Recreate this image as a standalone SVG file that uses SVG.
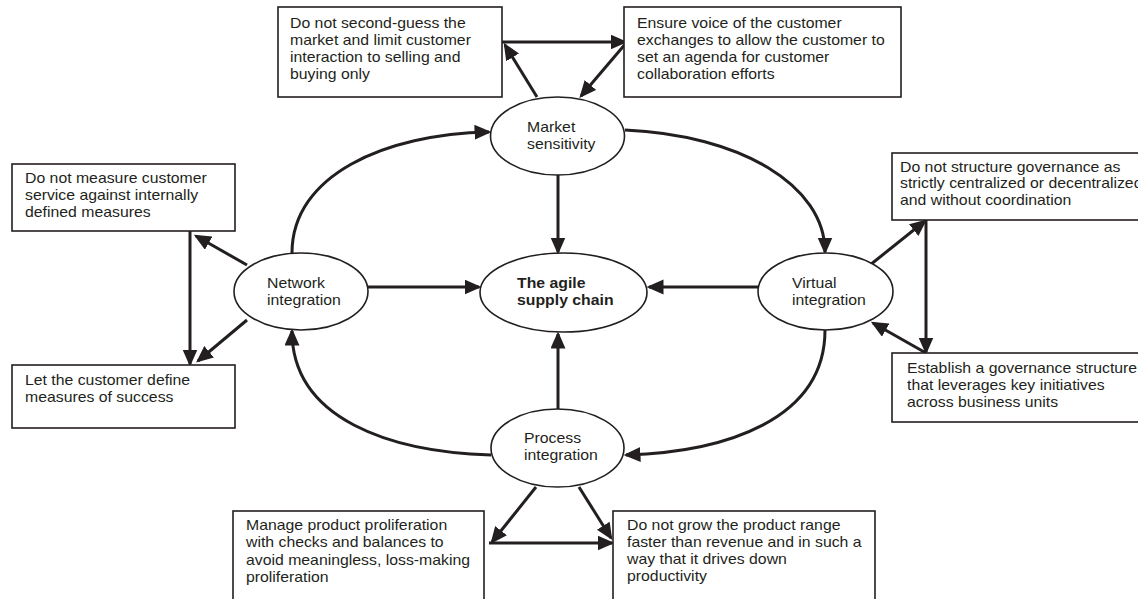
<svg xmlns="http://www.w3.org/2000/svg" width="1138" height="599" viewBox="0 0 1138 599">
  <style>
    .box { fill: #ffffff; stroke: #231f20; stroke-width: 1.6; }
    .node { fill: #ffffff; stroke: #231f20; stroke-width: 1.6; }
    .lbl { font-family: "Liberation Sans", Arial, sans-serif; font-size: 14px; fill: #231f20; }
    .bold { font-weight: bold; }
    .edge { fill: none; stroke: #231f20; stroke-width: 3; }
  </style>
  <defs>
    <marker id="arrow" markerUnits="userSpaceOnUse" markerWidth="18" markerHeight="16" refX="14.5" refY="7.5" orient="auto">
      <path d="M0,0 L17,7.5 L0,15 z" fill="#231f20"/>
    </marker>
  </defs>
  <rect width="1138" height="599" fill="#ffffff"/>

  <!-- connectors -->
  <g id="connectors">
    <!-- outer cycle -->
    <path class="edge" d="M292,253 C292,175 385,134 489,132" marker-end="url(#arrow)"/>
    <path class="edge" d="M625,130 C740,135 825,185 825,252" marker-end="url(#arrow)"/>
    <path class="edge" d="M825,330 C825,420 725,452 626,455" marker-end="url(#arrow)"/>
    <path class="edge" d="M491,455 C392,452 292,420 292,331" marker-end="url(#arrow)"/>
    <!-- into the hub -->
    <path class="edge" d="M558,175 L558,252" marker-end="url(#arrow)"/>
    <path class="edge" d="M558,409 L558,334" marker-end="url(#arrow)"/>
    <path class="edge" d="M368,287 L479,287" marker-end="url(#arrow)"/>
    <path class="edge" d="M758,287 L649,287" marker-end="url(#arrow)"/>
    <!-- market sensitivity loop -->
    <path class="edge" d="M537,97 L505,45" marker-end="url(#arrow)"/>
    <path class="edge" d="M502,42 L625,42" marker-end="url(#arrow)"/>
    <path class="edge" d="M627,42 L581,96" marker-end="url(#arrow)"/>
    <!-- network integration loop -->
    <path class="edge" d="M247,265 L196,236" marker-end="url(#arrow)"/>
    <path class="edge" d="M190,231 L190,364" marker-end="url(#arrow)"/>
    <path class="edge" d="M247,320 L198,361" marker-end="url(#arrow)"/>
    <!-- virtual integration loop -->
    <path class="edge" d="M870,265 L925,221" marker-end="url(#arrow)"/>
    <path class="edge" d="M926,220 L926,352" marker-end="url(#arrow)"/>
    <path class="edge" d="M926,353 L873,323" marker-end="url(#arrow)"/>
    <!-- process integration loop -->
    <path class="edge" d="M536,487 L492,542" marker-end="url(#arrow)"/>
    <path class="edge" d="M489,543 L612,543" marker-end="url(#arrow)"/>
    <path class="edge" d="M579,487 L611,538" marker-end="url(#arrow)"/>
  </g>

  <!-- central hub -->
  <g id="agile-supply-chain">
    <ellipse class="node" cx="563.5" cy="292.5" rx="83.5" ry="39.5"/>
    <text class="lbl bold" transform="translate(517,288) scale(1.13,1)"><tspan x="0" y="0">The agile</tspan><tspan x="0" y="17">supply chain</tspan></text>
  </g>

  <!-- four dimensions -->
  <g id="market-sensitivity">
    <ellipse class="node" cx="557.5" cy="136" rx="67" ry="39"/>
    <text class="lbl" transform="translate(527,132) scale(1.13,1)"><tspan x="0" y="0">Market</tspan><tspan x="0" y="17">sensitivity</tspan></text>
  </g>
  <g id="network-integration">
    <ellipse class="node" cx="301" cy="291.5" rx="67" ry="38.5"/>
    <text class="lbl" transform="translate(267,288) scale(1.13,1)"><tspan x="0" y="0">Network</tspan><tspan x="0" y="17">integration</tspan></text>
  </g>
  <g id="virtual-integration">
    <ellipse class="node" cx="825.5" cy="291.5" rx="67.5" ry="38.5"/>
    <text class="lbl" transform="translate(792,288) scale(1.13,1)"><tspan x="0" y="0">Virtual</tspan><tspan x="0" y="17">integration</tspan></text>
  </g>
  <g id="process-integration">
    <ellipse class="node" cx="557.5" cy="448" rx="66.5" ry="39"/>
    <text class="lbl" transform="translate(524,443) scale(1.13,1)"><tspan x="0" y="0">Process</tspan><tspan x="0" y="17">integration</tspan></text>
  </g>

  <!-- guideline boxes -->
  <g id="box-second-guess">
    <rect class="box" x="278" y="7" width="224" height="90"/>
    <text class="lbl" transform="translate(290,28) scale(1.13,1)"><tspan x="0" y="0">Do not second-guess the</tspan><tspan x="0" y="17">market and limit customer</tspan><tspan x="0" y="34">interaction to selling and</tspan><tspan x="0" y="51">buying only</tspan></text>
  </g>
  <g id="box-voice-of-customer">
    <rect class="box" x="624" y="7" width="277" height="90"/>
    <text class="lbl" transform="translate(637,28) scale(1.13,1)"><tspan x="0" y="0">Ensure voice of the customer</tspan><tspan x="0" y="17">exchanges to allow the customer to</tspan><tspan x="0" y="34">set an agenda for customer</tspan><tspan x="0" y="51">collaboration efforts</tspan></text>
  </g>
  <g id="box-internal-measures">
    <rect class="box" x="12" y="164" width="223" height="67"/>
    <text class="lbl" transform="translate(25,183) scale(1.13,1)"><tspan x="0" y="0">Do not measure customer</tspan><tspan x="0" y="17">service against internally</tspan><tspan x="0" y="34">defined measures</tspan></text>
  </g>
  <g id="box-customer-measures">
    <rect class="box" x="12" y="365" width="223" height="63"/>
    <text class="lbl" transform="translate(25,385) scale(1.13,1)"><tspan x="0" y="0">Let the customer define</tspan><tspan x="0" y="17">measures of success</tspan></text>
  </g>
  <g id="box-governance-structure">
    <rect class="box" x="892" y="153" width="260" height="67"/>
    <text class="lbl" transform="translate(900,172) scale(1.13,1)"><tspan x="0" y="0">Do not structure governance as</tspan><tspan x="0" y="16.5">strictly centralized or decentralized</tspan><tspan x="0" y="33">and without coordination</tspan></text>
  </g>
  <g id="box-governance-initiatives">
    <rect class="box" x="892" y="353" width="260" height="69"/>
    <text class="lbl" transform="translate(907,373) scale(1.13,1)"><tspan x="0" y="0">Establish a governance structure</tspan><tspan x="0" y="17">that leverages key initiatives</tspan><tspan x="0" y="34">across business units</tspan></text>
  </g>
  <g id="box-product-proliferation">
    <rect class="box" x="233" y="511" width="251" height="100"/>
    <text class="lbl" transform="translate(246,530) scale(1.13,1)"><tspan x="0" y="0">Manage product proliferation</tspan><tspan x="0" y="17.5">with checks and balances to</tspan><tspan x="0" y="35">avoid meaningless, loss-making</tspan><tspan x="0" y="52.5">proliferation</tspan></text>
  </g>
  <g id="box-product-range">
    <rect class="box" x="613" y="511" width="262" height="100"/>
    <text class="lbl" transform="translate(627,530) scale(1.13,1)"><tspan x="0" y="0">Do not grow the product range</tspan><tspan x="0" y="17">faster than revenue and in such a</tspan><tspan x="0" y="34">way that it drives down</tspan><tspan x="0" y="51">productivity</tspan></text>
  </g>
</svg>
